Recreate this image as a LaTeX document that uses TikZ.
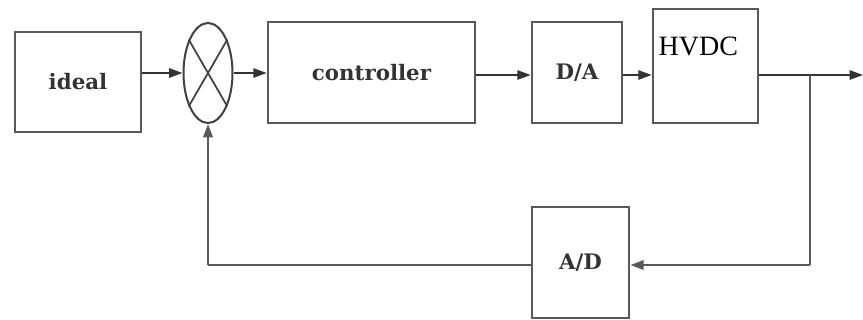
\documentclass[tikz,border=0pt]{standalone}
\usepackage{fontspec}
\setmainfont{Liberation Serif}
\newfontfamily\blockfont{DejaVu Serif}
\usetikzlibrary{arrows.meta,shapes.geometric}

\tikzset{
  block/.style={draw=black!65, line width=2pt, fill=white, inner sep=0pt,
    font=\blockfont\bfseries\fontsize{16}{19}\selectfont, text=black!80},
  sumjunction/.style={draw=black!75, ellipse, line width=1.5pt, inner sep=0pt,
    minimum width=36.75pt, minimum height=75pt},
  signal/.style={draw=black!80, line width=1.3pt, -{Triangle[length=10pt,width=7pt]}},
  feedback/.style={draw=black!65, line width=1.8pt},
}

\begin{document}
\begin{tikzpicture}[x=0.75pt,y=-0.75pt]
    \useasboundingbox (0,0) rectangle (863,320);
    % forward path
    \node[block, minimum width=94.5pt, minimum height=75pt] (ideal) at (78,82) {ideal};
    \node[sumjunction] (sum) at (208,73) {};
    \draw[draw=black!75, line width=1.3pt] (sum.120) -- (sum.-60)
        (sum.60) -- (sum.240);
    \node[block, minimum width=155.25pt, minimum height=75.75pt] (ctrl) at (371.5,72.5) {controller};
    \node[block, minimum width=67.5pt, minimum height=75.75pt] (da) at (577,72.5) {D/A};
    \node[block, minimum width=78.75pt, minimum height=85.5pt,
        label={[anchor=north west, font=\fontsize{21}{24}\selectfont, inner sep=0pt,
        xshift=5pt, yshift=-22pt]north west:HVDC}] (hvdc) at (705.5,66) {};
    % feedback path
    \node[block, minimum width=72.75pt, minimum height=83.25pt] (ad) at (580.5,262.5) {A/D};
    \coordinate (out) at (863,75);
    \coordinate (branch) at (810,75);
    \coordinate (corner) at (810,265);

    \draw[signal] (ideal.east |- sum.west) -- (sum.west);
    \draw[signal] (sum.east) -- (sum.east -| ctrl.west);
    \draw[signal] (ctrl.east |- branch) -- (da.west |- branch);
    \draw[signal] (da.east |- branch) -- (hvdc.west |- branch);
    \draw[signal] (hvdc.east |- branch) -- (out);
    \draw[feedback] (branch) -- (corner);
    \draw[feedback, -{Triangle[length=10pt,width=7pt]}] (corner) -- (corner -| ad.east);
    \draw[feedback] (ad.west |- corner) -- (corner -| sum.south);
    \draw[signal, draw=black!65, line width=1.8pt] (corner -| sum.south) -- (sum.south);
\end{tikzpicture}
\end{document}
